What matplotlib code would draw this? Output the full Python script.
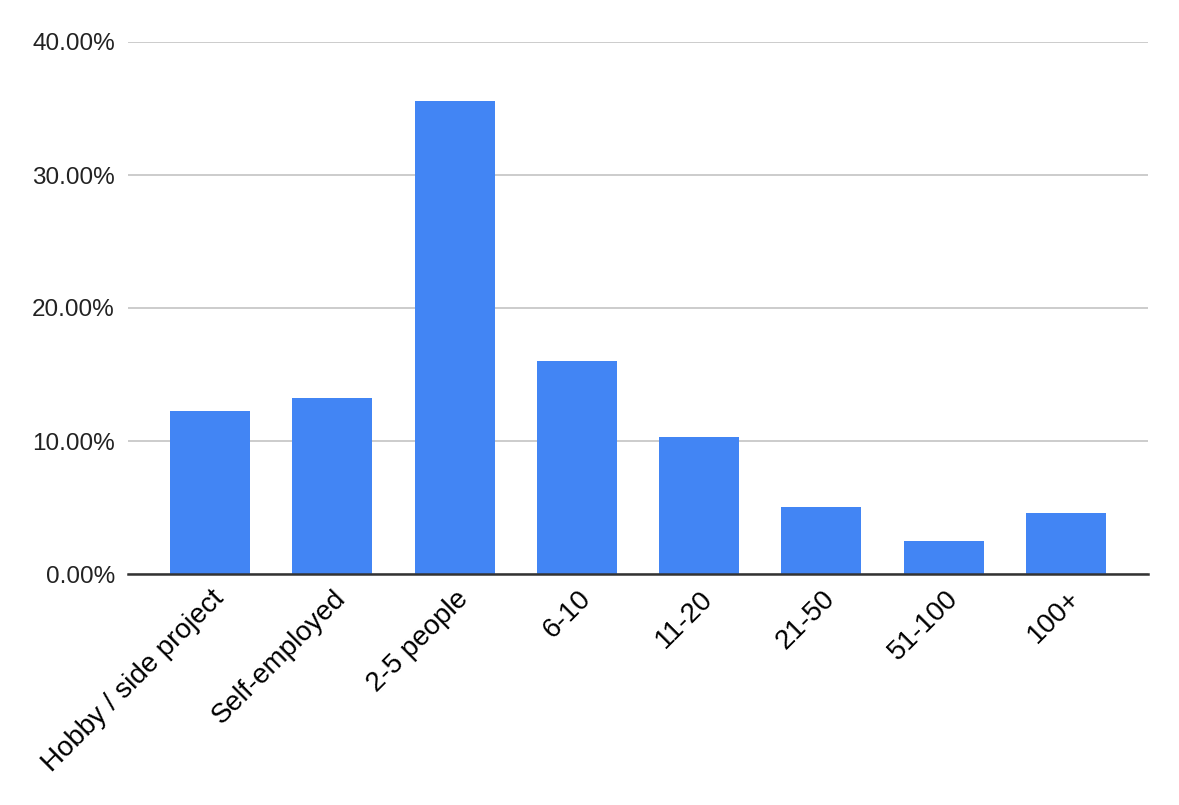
import matplotlib.pyplot as plt
import matplotlib.transforms as mtransforms
from matplotlib.ticker import PercentFormatter

plt.rcParams['font.family'] = ['Liberation Sans', 'DejaVu Sans']

categories = ['Hobby / side project', 'Self-employed', '2-5 people', '6-10',
              '11-20', '21-50', '51-100', '100+']
shares = [12.26, 13.23, 35.56, 16.0, 10.3, 5.04, 2.48, 4.59]

fig = plt.figure(figsize=(11.79, 8.05), dpi=100)
ax = fig.add_axes([128 / 1179, 1 - 574 / 805, (1148 - 128) / 1179, (574 - 42) / 805])

x = range(len(categories))
ax.bar(x, shares, width=0.654, color='#4285F4', zorder=3)

ax.set_xlim(-0.67, len(categories) - 1 + 0.67)
ax.set_ylim(0, 40)
ax.set_yticks([0, 10, 20, 30, 40])
ax.yaxis.set_major_formatter(PercentFormatter(decimals=2))
ax.grid(axis='y', color='#c8c8c8', linewidth=1.3, zorder=0)

for s in ['top', 'right', 'left']:
    ax.spines[s].set_visible(False)
ax.spines['bottom'].set_color('#333333')
ax.spines['bottom'].set_linewidth(1.8)
ax.spines['bottom'].set_zorder(4)

ax.tick_params(axis='y', length=0, pad=9.5, labelsize=17.5, labelcolor='#222222')
ax.tick_params(axis='x', length=0, pad=15, labelsize=20)
ax.set_xticks(list(x))
ax.set_xticklabels(categories, rotation=45, ha='right', va='center',
                   rotation_mode='anchor')
shift = mtransforms.ScaledTranslation(10 / 100, 0, fig.dpi_scale_trans)
for lbl in ax.get_xticklabels():
    lbl.set_transform(lbl.get_transform() + shift)

plt.savefig('out.png', dpi=100)
